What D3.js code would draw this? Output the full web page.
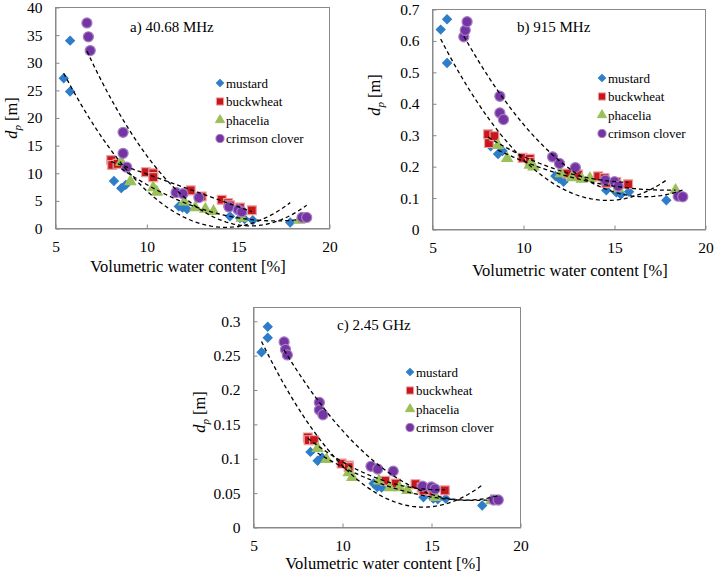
<!DOCTYPE html>
<meta charset="utf-8">
<style>
body {
  background: #fff;
  margin: 0;
  padding: 0;
}
svg text {
  font-family: "Liberation Serif", "Times New Roman", serif;
  fill: #000;
}
.frame {
  fill: none;
  stroke: #898989;
  stroke-width: 1px;
}
.axis path, .axis line {
  stroke: #898989;
}
.axis text {
  font-size: 15.5px;
}
.trend {
  fill: none;
  stroke: #000;
  stroke-width: 1.3px;
  stroke-dasharray: 4, 3;
}
.legend text {
  font-size: 13px;
}
</style>
<div id="chart"></div>
<script src="https://d3js.org/d3.v7.min.js"></script>
<script>
var width = 714,
    height = 574;

var species = ["mustard", "buckwheat", "phacelia", "crimson clover"];

// water content [%] of every sample, per species
var mustardX = [5.45, 5.8, 5.8, 8.2, 8.6, 8.85, 11.75, 11.95, 12.2, 14.55, 15.1, 15.35, 15.8, 17.85];
var buckwheatX = [8.05, 8.1, 8.4, 9.95, 10.35, 10.35, 12.4, 13.0, 14.1, 14.45, 14.55, 15.1, 15.75];
var phaceliaX = [8.6, 9.1, 10.35, 10.55, 12.05, 12.65, 13.2, 13.65, 15.2, 18.35];
var cloverX = [6.72, 6.8, 6.9, 8.7, 8.7, 8.9, 11.6, 11.98, 12.85, 14.5, 15.0, 15.2, 18.5, 18.75];

// penetration depth d_p [m] at 40.68 MHz
var mustardA = [27.2, 34.0, 24.8, 8.6, 7.3, 7.9, 4.0, 3.8, 3.5, 2.2, 1.9, 1.7, 1.5, 1.1];
var buckwheatA = [12.4, 11.5, 11.7, 10.2, 10.0, 9.3, 6.9, 5.8, 5.2, 4.6, 4.2, 3.8, 3.3];
var phaceliaA = [12.0, 8.5, 7.4, 6.6, 4.8, 3.8, 3.5, 3.1, 1.9, 1.5];
var cloverA = [37.2, 34.7, 32.2, 17.4, 13.6, 11.1, 6.5, 6.3, 5.6, 3.9, 3.4, 3.0, 2.0, 2.0];

// at 915 MHz
var mustardB = [0.636, 0.669, 0.530, 0.265, 0.240, 0.250, 0.170, 0.162, 0.152, 0.125, 0.118, 0.111, 0.120, 0.093];
var buckwheatB = [0.303, 0.275, 0.297, 0.228, 0.225, 0.215, 0.178, 0.175, 0.169, 0.164, 0.148, 0.151, 0.144];
var phaceliaB = [0.268, 0.226, 0.205, 0.199, 0.178, 0.165, 0.160, 0.163, 0.130, 0.125];
var cloverB = [0.613, 0.634, 0.661, 0.424, 0.371, 0.350, 0.231, 0.210, 0.197, 0.157, 0.152, 0.138, 0.106, 0.104];

// at 2.45 GHz
var mustardC = [0.255, 0.292, 0.276, 0.110, 0.097, 0.102, 0.064, 0.059, 0.058, 0.044, 0.042, 0.041, 0.042, 0.032];
var buckwheatC = [0.131, 0.127, 0.127, 0.093, 0.090, 0.088, 0.068, 0.064, 0.063, 0.058, 0.054, 0.052, 0.054];
var phaceliaC = [0.115, 0.099, 0.080, 0.073, 0.068, 0.058, 0.058, 0.054, 0.044, 0.039];
var cloverC = [0.270, 0.259, 0.251, 0.182, 0.171, 0.164, 0.089, 0.085, 0.082, 0.060, 0.059, 0.056, 0.040, 0.040];

var xTicks = [5, 10, 15, 20];
var yTicksA = [0, 5, 10, 15, 20, 25, 30, 35, 40];
var yTicksB = [0, 0.1, 0.2, 0.3, 0.4, 0.5, 0.6, 0.7];
var yTicksC = [0, 0.05, 0.1, 0.15, 0.2, 0.25, 0.3];
var yLabelsB = ["0", "0.1", "0.2", "0.3", "0.4", "0.5", "0.6", "0.7"];
var yLabelsC = ["0", "0.05", "0.1", "0.15", "0.2", "0.25", "0.3"];

var colors = ["#2e7dc8", "#c8161d", "#9bc05a", "#7434a4"];
var strokes = ["#2e7dc8", "#eba0a0", "#9bc05a", "#a47fc2"];
var shapes = [d3.symbolSquare, d3.symbolSquare, d3.symbolTriangle, d3.symbolCircle];
var sizes = [38, 78, 48, 80];
var legendSizes = [26, 52, 36, 52];
var rotations = [45, 0, 0, 0];

var panels = [
  {
    title: "a) 40.68 MHz", xs: [mustardX, buckwheatX, phaceliaX, cloverX],
    ys: [mustardA, buckwheatA, phaceliaA, cloverA],
    left: 55.5, right: 329.5, top: 7.5, bottom: 228.5, yMax: 40,
    yTicks: yTicksA, yLabels: yTicksA.map(String),
    titleX: 130, titleY: 32, legX: 220, legY: 83,
    xTitleX: 188, xTitleY: 272, yTitleX: 17, yTitleY: 118
  },
  {
    title: "b) 915 MHz", xs: [mustardX, buckwheatX, phaceliaX, cloverX],
    ys: [mustardB, buckwheatB, phaceliaB, cloverB],
    left: 432.5, right: 705.5, top: 9.5, bottom: 229.5, yMax: 0.7,
    yTicks: yTicksB, yLabels: yLabelsB,
    titleX: 517, titleY: 32, legX: 602, legY: 78,
    xTitleX: 570, xTitleY: 276, yTitleX: 380, yTitleY: 95
  },
  {
    title: "c) 2.45 GHz", xs: [mustardX, buckwheatX, phaceliaX, cloverX],
    ys: [mustardC, buckwheatC, phaceliaC, cloverC],
    left: 253.5, right: 520.5, top: 307.5, bottom: 527.5, yMax: 0.32,
    yTicks: yTicksC, yLabels: yLabelsC,
    titleX: 337, titleY: 330, legX: 410, legY: 372,
    xTitleX: 383, xTitleY: 569, yTitleX: 205, yTitleY: 412
  }
];

var svg = d3.select("#chart").append("svg")
    .attr("width", width)
    .attr("height", height);

// least squares quadratic, like a 2nd order trendline
function quadFit(xs, ys) {
  var n = xs.length, s = [0, 0, 0, 0, 0], t = [0, 0, 0];
  for (var i = 0; i < n; i++) {
    var p = 1;
    for (var k = 0; k < 5; k++) { s[k] += p; if (k < 3) t[k] += p * ys[i]; p *= xs[i]; }
  }
  var m = [[s[0], s[1], s[2], t[0]], [s[1], s[2], s[3], t[1]], [s[2], s[3], s[4], t[2]]];
  for (var c = 0; c < 3; c++) {
    for (var r = c + 1; r < 3; r++) {
      var f = m[r][c] / m[c][c];
      for (var j = c; j < 4; j++) m[r][j] -= f * m[c][j];
    }
  }
  var b = [0, 0, 0];
  for (var r2 = 2; r2 >= 0; r2--) {
    var v = m[r2][3];
    for (var j2 = r2 + 1; j2 < 3; j2++) v -= m[r2][j2] * b[j2];
    b[r2] = v / m[r2][r2];
  }
  return function(x) { return b[0] + b[1] * x + b[2] * x * x; };
}

panels.forEach(function(p) {
  var x = d3.scaleLinear().domain([5, 20]).range([p.left, p.right]);
  var y = d3.scaleLinear().domain([0, p.yMax]).range([p.bottom, p.top]);
  var g = svg.append("g");

  g.append("rect")
      .attr("class", "frame")
      .attr("x", p.left)
      .attr("y", p.top)
      .attr("width", p.right - p.left)
      .attr("height", p.bottom - p.top);

  g.append("g")
      .attr("class", "axis")
      .attr("transform", "translate(0," + p.bottom + ")")
      .call(d3.axisBottom(x).tickValues(xTicks).tickSize(-4).tickSizeOuter(0).tickPadding(12));

  g.append("g")
      .attr("class", "axis")
      .attr("transform", "translate(" + p.left + ",0)")
      .call(d3.axisLeft(y).tickValues(p.yTicks).tickSize(-4).tickSizeOuter(0).tickPadding(13)
        .tickFormat(function(d, i) { return p.yLabels[i]; }));

  svg.selectAll(".axis").attr("font-family", null).attr("font-size", null);

  // markers
  species.forEach(function(name, si) {
    var pts = p.xs[si].map(function(v, i) { return [v, p.ys[si][i]]; });
    g.append("g").selectAll("path")
      .data(pts)
      .join("path")
        .attr("d", d3.symbol(shapes[si], sizes[si]))
        .attr("transform", function(d) {
          return "translate(" + x(d[0]) + "," + y(d[1]) + ") rotate(" + rotations[si] + ")";
        })
        .attr("fill", colors[si])
        .attr("stroke", strokes[si])
        .attr("stroke-width", 1.2);
  });

  // dashed trendlines
  species.forEach(function(name, si) {
    var f = quadFit(p.xs[si], p.ys[si]);
    var ext = d3.extent(p.xs[si]);
    var line = d3.line()
        .x(function(d) { return x(d); })
        .y(function(d) { return y(f(d)); });
    g.append("path")
        .attr("class", "trend")
        .attr("d", line(d3.range(ext[0], ext[1] + 0.001, (ext[1] - ext[0]) / 60)));
  });

  g.append("text")
      .attr("x", p.titleX)
      .attr("y", p.titleY)
      .attr("font-size", "15px")
      .text(p.title);

  var leg = g.append("g").attr("class", "legend");
  species.forEach(function(name, si) {
    var ly = p.legY + si * 18.5;
    leg.append("path")
        .attr("d", d3.symbol(shapes[si], legendSizes[si]))
        .attr("transform", "translate(" + p.legX + "," + ly + ") rotate(" + rotations[si] + ")")
        .attr("fill", colors[si])
        .attr("stroke", strokes[si]);
    leg.append("text")
        .attr("x", p.legX + 6)
        .attr("y", ly + 4.5)
        .text(name);
  });

  g.append("text")
      .attr("x", p.xTitleX)
      .attr("y", p.xTitleY)
      .attr("text-anchor", "middle")
      .attr("font-size", "16.5px")
      .text("Volumetric water content [%]");

  var yt = g.append("text")
      .attr("transform", "translate(" + p.yTitleX + "," + p.yTitleY + ") rotate(-90)")
      .attr("text-anchor", "middle")
      .attr("font-size", "16.5px");
  yt.append("tspan").attr("font-style", "italic").text("d");
  yt.append("tspan").attr("font-style", "italic").attr("font-size", "11px").attr("dy", 4).text("p");
  yt.append("tspan").attr("dy", -4).text(" [m]");
});
</script>
